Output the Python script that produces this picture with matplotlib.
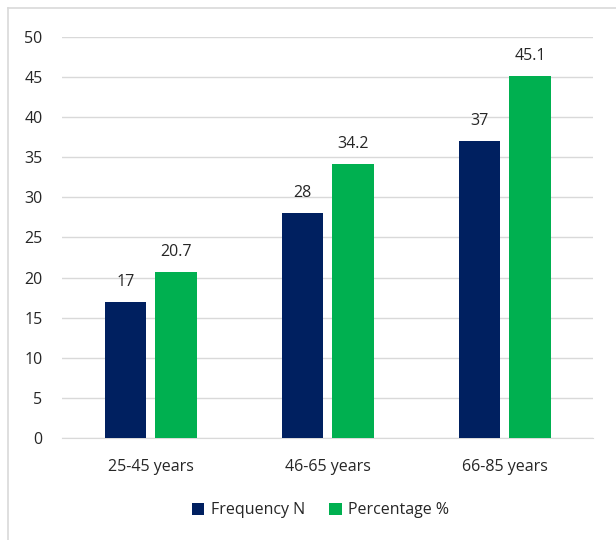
import numpy as np
import matplotlib.pyplot as plt
from matplotlib.lines import Line2D

plt.rcParams['font.family'] = ['Open Sans', 'DejaVu Sans']

categories = ['25-45 years', '46-65 years', '66-85 years']
frequency = [17, 28, 37]
percentage = [20.7, 34.2, 45.1]

navy = '#002060'
green = '#00B050'

fig = plt.figure(figsize=(6.16, 5.40), dpi=100)
ax = fig.add_axes([62 / 616, 0.189, 531 / 616, 0.7425])

x = np.arange(len(categories))
w = 0.232
b1 = ax.bar(x - 0.141, frequency, w, color=navy, label='Frequency N', zorder=3)
b2 = ax.bar(x + 0.144, percentage, w, color=green, label='Percentage %', zorder=3)

for bars, vals in ((b1, frequency), (b2, percentage)):
    for r, v in zip(bars, vals):
        ax.text(r.get_x() + r.get_width() / 2, v + 1.5, f'{v:g}',
                ha='center', va='bottom', fontsize=11.5, color='#262626')

ax.set_xlim(-0.5, 2.5)
ax.set_ylim(0, 50)
ax.set_yticks(range(0, 51, 5))
ax.set_xticks(x)
ax.set_xticklabels(categories)
ax.yaxis.grid(True, color='#d9d9d9', linewidth=1, zorder=0)
for s in ['top', 'right', 'left']:
    ax.spines[s].set_visible(False)
ax.spines['bottom'].set_color('#d9d9d9')
ax.tick_params(axis='both', length=0, labelsize=11.5, colors='#262626')
ax.tick_params(axis='x', pad=15)
ax.tick_params(axis='y', pad=14)

fig.legend(handles=[b1, b2], loc='center', bbox_to_anchor=(0.52, 0.055), ncol=2,
           frameon=False, fontsize=11.5, handlelength=0.8, handleheight=0.8,
           columnspacing=1.5, handletextpad=0.4, labelcolor='#262626')

# chart border only shows on top and left
fig.lines.append(Line2D([8 / 616, 8 / 616], [0, 1 - 8 / 540], transform=fig.transFigure,
                        color='#d9d9d9', linewidth=1.2))
fig.lines.append(Line2D([8 / 616, 1], [1 - 8 / 540, 1 - 8 / 540], transform=fig.transFigure,
                        color='#d9d9d9', linewidth=1.2))

fig.savefig('out.png', dpi=100)
